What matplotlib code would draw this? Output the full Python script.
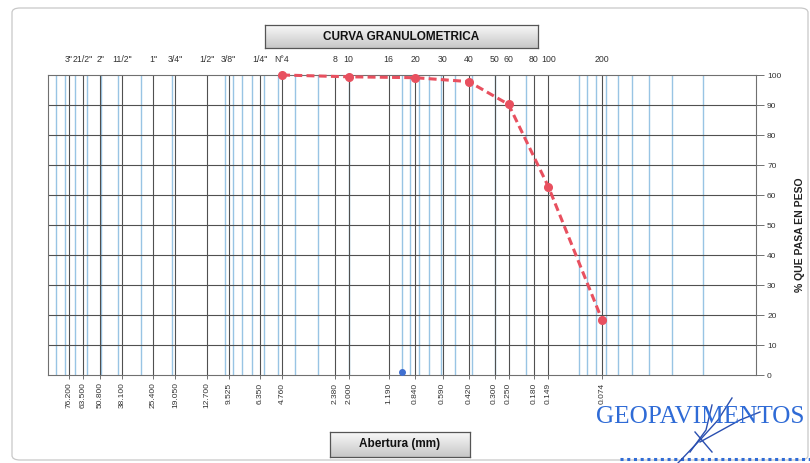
import numpy as np
import matplotlib
matplotlib.use("Agg")
import matplotlib.pyplot as plt
from matplotlib.lines import Line2D
from matplotlib.patches import FancyBboxPatch

plt.rcParams['font.family'] = ['Liberation Sans', 'DejaVu Sans']

# Sieve openings (mm) with their names
sieve_mm = [76.2, 63.5, 50.8, 38.1, 25.4, 19.05, 12.7, 9.525, 6.35, 4.76,
            2.38, 2.0, 1.19, 0.84, 0.59, 0.42, 0.30, 0.25, 0.18, 0.149, 0.074]
sieve_names = ['3"', '21/2"', '2"', '11/2"', '1"', '3/4"', '1/2"', '3/8"', '1/4"', 'N°4',
               '8', '10', '16', '20', '30', '40', '50', '60', '80', '100', '200']
mm_labels = ['76.200', '63.500', '50.800', '38.100', '25.400', '19.050', '12.700',
             '9.525', '6.350', '4.760', '2.380', '2.000', '1.190', '0.840', '0.590',
             '0.420', '0.300', '0.250', '0.180', '0.149', '0.074']

# Grading curve: opening (mm) vs. percent passing
curve_mm = [4.76, 2.0, 0.84, 0.42, 0.25, 0.149, 0.074]
curve_pass = [100.0, 99.4, 99.1, 97.8, 90.2, 62.8, 18.3]

# Extra single point near the base
extra_mm = [1.0]
extra_pass = [1.1]

W, H = 810, 463
fig = plt.figure(figsize=(W / 100, H / 100), dpi=100)
fig.patch.set_facecolor('white')

def fx(px):
    return px / W

def fy(py):
    return 1 - py / H

# Outer chart frame
frame = FancyBboxPatch((fx(12), fy(460)), fx(796), fy(8) - fy(460),
                       boxstyle="round,pad=0,rounding_size=0.01",
                       transform=fig.transFigure, fill=False,
                       edgecolor='#c8c8c8', linewidth=0.9)
fig.add_artist(frame)

L, R, T, B = 48, 756, 75, 375
ax = fig.add_axes([fx(L), fy(B), fx(R) - fx(L), fy(T) - fy(B)])
ax.set_xscale('log')
ax.set_xlim(100, 0.01)
ax.set_ylim(0, 100)

# Logarithmic minor grid (blue)
minor_vals = []
for dec in [0.01, 0.1, 1, 10]:
    for k in range(1, 10):
        minor_vals.append(k * dec)
for v in minor_vals:
    if 0.01 < v < 100:
        ax.axvline(v, color='#98c4e4', linewidth=1.0, zorder=1)

# Sieve lines (dark)
for v in sieve_mm:
    ax.axvline(v, color='#505050', linewidth=0.8, zorder=2)

# Horizontal grid
for yv in range(10, 100, 10):
    ax.axhline(yv, color='#505050', linewidth=0.8, zorder=2)

# Grading curve
ax.plot(curve_mm, curve_pass, color='#e8505f', linestyle=(0, (2.6, 1.4)),
        linewidth=2.2, marker='o', markersize=5.5, zorder=5, clip_on=False)
ax.plot(extra_mm, extra_pass, linestyle='none', marker='o', markersize=4,
        color='#3f6fd0', zorder=6)

# Axes styling
for s in ['left', 'top', 'bottom', 'right']:
    ax.spines[s].set_color('#707070')
    ax.spines[s].set_linewidth(0.8)

ax.yaxis.tick_right()
ax.set_yticks(range(0, 101, 10))
ax.tick_params(axis='y', direction='out', length=6, width=0.7, colors='#707070',
               labelsize=6, labelcolor='#333333', pad=2)
ax.set_xticks(sieve_mm)
ax.set_xticks([], minor=True)
ax.set_xticklabels([])
ax.tick_params(axis='x', direction='out', length=3, width=0.7, colors='#707070')

# Sieve names along the top
for v, name in zip(sieve_mm, sieve_names):
    ax.text(v, 1.035, name, transform=ax.get_xaxis_transform(), ha='center',
            va='bottom', fontsize=6.3, color='#333333')

# Opening sizes along the bottom
for v, lab in zip(sieve_mm, mm_labels):
    ax.text(v, -0.025, lab, transform=ax.get_xaxis_transform(), ha='center',
            va='top', rotation=90, fontsize=6, color='#333333')

# Y axis title
fig.text(fx(800), fy(235), '% QUE PASA EN PESO', rotation=90, ha='center',
         va='center', fontsize=7.5, fontweight='bold', color='#222222')

def label_box(x0, y0, x1, y1, text):
    bax = fig.add_axes([fx(x0), fy(y1), fx(x1) - fx(x0), fy(y0) - fy(y1)])
    grad = np.linspace(0.97, 0.78, 50).reshape(-1, 1)
    bax.imshow(grad, aspect='auto', cmap='gray', vmin=0, vmax=1,
               extent=[0, 1, 0, 1])
    bax.set_xlim(0, 1)
    bax.set_ylim(0, 1)
    bax.set_xticks([])
    bax.set_yticks([])
    for s in bax.spines.values():
        s.set_color('#555555')
        s.set_linewidth(0.9)
    bax.text(0.5, 0.5, text, ha='center', va='center', fontsize=8.5,
             fontweight='bold', color='#111111')

label_box(265, 25, 538, 48, 'CURVA GRANULOMETRICA')
label_box(330, 432, 470, 457, 'Abertura (mm)')

# Company mark
fig.text(fx(596), fy(423), 'GEOPAVIMENTOS', fontsize=18.2,
         family=['Liberation Serif', 'DejaVu Serif'], color='#2f6bd6',
         ha='left', va='baseline')
fig.add_artist(Line2D([fx(620), fx(810)], [fy(459), fy(459)],
                      transform=fig.transFigure, color='#2f6bd6',
                      linestyle=(0, (1, 1.2)), linewidth=2.2))
# Signature strokes
sig_x = [[678, 700, 718, 732], [690, 706, 712], [700, 740, 760], [695, 712]]
sig_y = [[463, 440, 420, 398], [452, 430, 405], [442, 420, 412], [432, 452]]
for xs, ys in zip(sig_x, sig_y):
    fig.add_artist(Line2D([fx(v) for v in xs], [fy(v) for v in ys],
                          transform=fig.transFigure, color='#2a4fb0',
                          linewidth=1.0))

fig.savefig('out.png', dpi=100, facecolor='white')
